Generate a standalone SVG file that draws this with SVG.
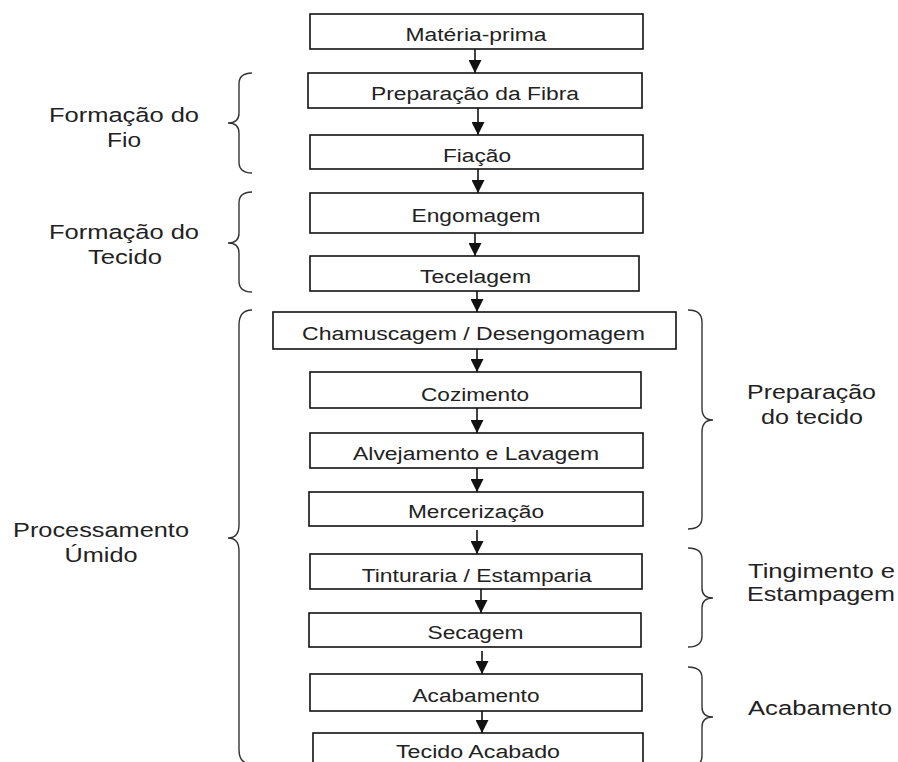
<svg xmlns="http://www.w3.org/2000/svg" width="898" height="762" viewBox="0 0 898 762">
<defs>
<style>
.box rect{fill:#fff;stroke:#111;stroke-width:1.6}
.box text{font-family:"Liberation Sans",Arial,sans-serif;font-size:18px;fill:#222;text-anchor:middle}
.lbl text{font-family:"Liberation Sans",Arial,sans-serif;font-size:20.5px;fill:#222;text-anchor:middle}
.lbl text.tight{font-size:19.5px}
.brace{fill:none;stroke:#333;stroke-width:1.4}
.conn line{stroke:#111;stroke-width:1.6}
</style>
<marker id="ah" markerUnits="userSpaceOnUse" markerWidth="13" markerHeight="13" viewBox="0 0 12 12" refX="12" refY="6" orient="auto">
<path d="M0,0 L12,6 L0,12 Z" fill="#111"/>
</marker>
</defs>
<rect width="898" height="762" fill="#fff"/>

<g id="n1" class="box"><rect x="310" y="14" width="333" height="35"/><text x="476" y="41" textLength="141" lengthAdjust="spacingAndGlyphs">Matéria-prima</text></g>
<g id="n2" class="box"><rect x="308" y="73" width="334" height="35"/><text x="475" y="100" textLength="208" lengthAdjust="spacingAndGlyphs">Preparação da Fibra</text></g>
<g id="n3" class="box"><rect x="310" y="135" width="333" height="34"/><text x="477" y="162" textLength="68" lengthAdjust="spacingAndGlyphs">Fiação</text></g>
<g id="n4" class="box"><rect x="310" y="193" width="333" height="40"/><text x="476" y="221.5" textLength="129" lengthAdjust="spacingAndGlyphs">Engomagem</text></g>
<g id="n5" class="box"><rect x="310" y="256" width="329" height="35"/><text x="475.5" y="282.5" textLength="111" lengthAdjust="spacingAndGlyphs">Tecelagem</text></g>
<g id="n6" class="box"><rect x="273" y="312" width="403" height="37"/><text x="473.5" y="340" textLength="343" lengthAdjust="spacingAndGlyphs">Chamuscagem / Desengomagem</text></g>
<g id="n7" class="box"><rect x="310" y="372" width="331" height="36"/><text x="475" y="400.5" textLength="108" lengthAdjust="spacingAndGlyphs">Cozimento</text></g>
<g id="n8" class="box"><rect x="310" y="433" width="333" height="35"/><text x="476" y="460" textLength="246" lengthAdjust="spacingAndGlyphs">Alvejamento e Lavagem</text></g>
<g id="n9" class="box"><rect x="309" y="492" width="334" height="34"/><text x="476" y="518" textLength="136" lengthAdjust="spacingAndGlyphs">Mercerização</text></g>
<g id="n10" class="box"><rect x="310" y="554" width="332" height="35"/><text x="476.7" y="581.5" textLength="230" lengthAdjust="spacingAndGlyphs">Tinturaria / Estamparia</text></g>
<g id="n11" class="box"><rect x="309" y="613" width="332" height="34"/><text x="475.5" y="639" textLength="96" lengthAdjust="spacingAndGlyphs">Secagem</text></g>
<g id="n12" class="box"><rect x="310" y="674" width="332" height="37"/><text x="476" y="701.5" textLength="127" lengthAdjust="spacingAndGlyphs">Acabamento</text></g>
<g id="n13" class="box"><rect x="313" y="733" width="330" height="45"/><text x="478" y="758" textLength="164" lengthAdjust="spacingAndGlyphs">Tecido Acabado</text></g>

<g id="connectors" class="conn">
<line x1="475" y1="49" x2="475" y2="73" marker-end="url(#ah)"/>
<line x1="478" y1="108" x2="478" y2="135" marker-end="url(#ah)"/>
<line x1="478" y1="169" x2="478" y2="193" marker-end="url(#ah)"/>
<line x1="475" y1="233" x2="475" y2="256" marker-end="url(#ah)"/>
<line x1="477" y1="291" x2="477" y2="312" marker-end="url(#ah)"/>
<line x1="477" y1="349" x2="477" y2="372" marker-end="url(#ah)"/>
<line x1="477" y1="408" x2="477" y2="433" marker-end="url(#ah)"/>
<line x1="477" y1="468" x2="477" y2="492" marker-end="url(#ah)"/>
<line x1="477" y1="530" x2="477" y2="554" marker-end="url(#ah)"/>
<line x1="481" y1="589" x2="481" y2="613" marker-end="url(#ah)"/>
<line x1="482" y1="651" x2="482" y2="674" marker-end="url(#ah)"/>
<line x1="482" y1="711" x2="482" y2="733" marker-end="url(#ah)"/>
</g>

<g id="g-fio" class="lbl">
<path class="brace" d="M252,73 Q239,73 239,84 L239,113 Q239,123 228,123 Q239,123 239,133 L239,162 Q239,173 252,173"/>
<text x="124" y="122" textLength="150" lengthAdjust="spacingAndGlyphs">Formação do</text>
<text x="124" y="146.5" textLength="34" lengthAdjust="spacingAndGlyphs">Fio</text>
</g>
<g id="g-tecido" class="lbl">
<path class="brace" d="M252,192 Q239,192 239,203 L239,233 Q239,243 228,243 Q239,243 239,253 L239,281 Q239,292 252,292"/>
<text x="124" y="239" textLength="150" lengthAdjust="spacingAndGlyphs">Formação do</text>
<text x="125" y="264" textLength="74" lengthAdjust="spacingAndGlyphs">Tecido</text>
</g>
<g id="g-umido" class="lbl">
<path class="brace" d="M252,310 Q239,310 239,325 L239,525 Q239,538 228,538 Q239,538 239,551 L239,750 Q239,764 252,764"/>
<text x="101" y="536.5" textLength="176" lengthAdjust="spacingAndGlyphs">Processamento</text>
<text x="101" y="561.5" textLength="73" lengthAdjust="spacingAndGlyphs">Úmido</text>
</g>
<g id="g-prep" class="lbl">
<path class="brace" d="M688,310 Q702,310 702,322 L702,408 Q702,420 713,420 Q702,420 702,432 L702,517 Q702,529 688,529"/>
<text x="811.5" y="399" textLength="129" lengthAdjust="spacingAndGlyphs">Preparação</text>
<text x="812" y="424" textLength="102" lengthAdjust="spacingAndGlyphs">do tecido</text>
</g>
<g id="g-ting" class="lbl">
<path class="brace" d="M688,548 Q702,548 702,559 L702,588 Q702,598 713,598 Q702,598 702,608 L702,636 Q702,647 688,647"/>
<text class="tight" x="821.5" y="578" textLength="147" lengthAdjust="spacingAndGlyphs">Tingimento e</text>
<text class="tight" x="821" y="601" textLength="148" lengthAdjust="spacingAndGlyphs">Estampagem</text>
</g>
<g id="g-acab" class="lbl">
<path class="brace" d="M688,667 Q702,667 702,678 L702,707 Q702,717 713,717 Q702,717 702,727 L702,756 Q702,767 688,767"/>
<text x="820" y="715" textLength="144" lengthAdjust="spacingAndGlyphs">Acabamento</text>
</g>
</svg>
